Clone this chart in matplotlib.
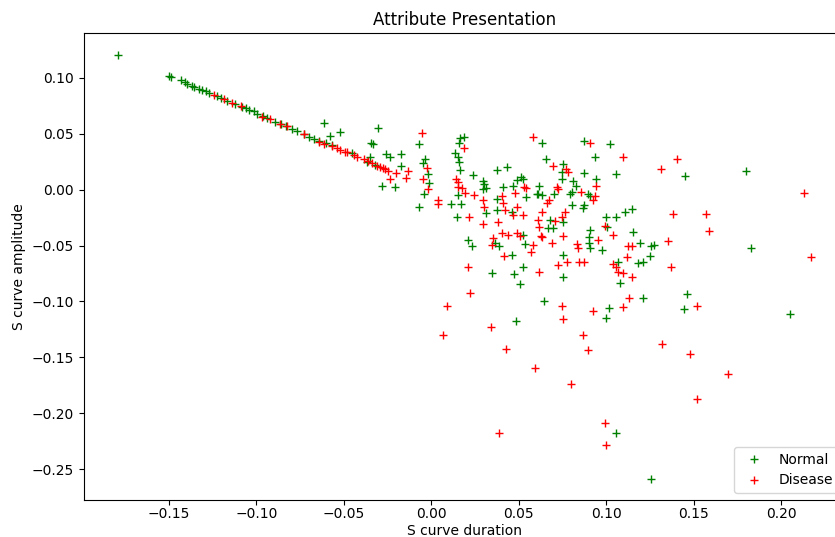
import numpy as np
import matplotlib
matplotlib.use('Agg')
import matplotlib.pyplot as plt

# S curve features, normal subjects
normal_duration = [
    -0.179, -0.150, -0.149, -0.143, -0.141, -0.1395, -0.1367, -0.1355, -0.133,
    -0.131, -0.129, -0.127, -0.1224, -0.120, -0.117, -0.112, -0.108, -0.1062,
    -0.1044, -0.1015, -0.0996, -0.096, -0.0939, -0.0891, -0.086, -0.083, -0.0796,
    -0.0768, -0.073, -0.070, -0.0673, -0.064, -0.060, -0.0568, -0.0454, -0.0368,
    -0.0321,
    -0.0616, -0.0581, -0.0524, -0.0305, -0.0345, -0.0334, -0.0349, -0.0258,
    -0.0235, -0.0172, -0.0174, -0.0282, -0.021,
    -0.0068, -0.0035, -0.0048, -0.0017, -0.0013, -0.0041, -0.0068,
    0.0164, 0.0187, 0.0159, 0.0136, 0.0155, 0.016, 0.0164, 0.0237, 0.0155,
    0.0111, 0.017, 0.0146, 0.0294, 0.0301, 0.0294, 0.0313, 0.0374, 0.043,
    0.0408, 0.0374, 0.0374, 0.0313,
    0.0465, 0.0488, 0.0511, 0.0526, 0.0541, 0.0459, 0.0526, 0.0611,
    0.063, 0.0874, 0.102, 0.0935, 0.1054, 0.0655, 0.0754, 0.0745, 0.0745,
    0.0874, 0.0807, 0.094, 0.0826, 0.0617, 0.0602, 0.063, 0.0701, 0.0792,
    0.0802, 0.0897, 0.0906, 0.0802, 0.0872, 0.0868, 0.075, 0.0678, 0.0668,
    0.0693, 0.0906, 0.0902, 0.1001, 0.1058, 0.1106, 0.1144, 0.1005, 0.115,
    0.0212, 0.0231, 0.0364, 0.0389, 0.0535, 0.0459, 0.0754, 0.0345, 0.0474,
    0.0522, 0.075, 0.0507, 0.0644, 0.0484, 0.0902, 0.0906, 0.0978, 0.1191,
    0.1068, 0.1182, 0.1207, 0.1077, 0.1207, 0.1016, 0.0997,
    0.1443, 0.2047, 0.1058, 0.1254, 0.1452, 0.180, 0.1258, 0.1271, 0.1829,
    0.1252, 0.1464,
]
normal_amplitude = [
    0.121, 0.102, 0.101, 0.098, 0.096, 0.0946, 0.0925, 0.0915, 0.0905,
    0.0895, 0.088, 0.0865, 0.0835, 0.082, 0.0795, 0.0767, 0.0742, 0.073,
    0.0716, 0.070, 0.068, 0.066, 0.0646, 0.061, 0.059, 0.057, 0.0545,
    0.0527, 0.050, 0.0476, 0.0455, 0.044, 0.0415, 0.040, 0.0327, 0.0252,
    0.0222,
    0.0596, 0.0485, 0.052, 0.0551, 0.0422, 0.0407, 0.029, 0.0318,
    0.0297, 0.0318, 0.0213, 0.0034, 0.0022,
    0.041, 0.0273, 0.0238, 0.0139, 0.0064, -0.004, -0.0151,
    0.0462, 0.047, 0.0415, 0.0327, 0.0297, 0.0252, 0.0178, 0.0133, -0.0047,
    -0.0127, -0.013, -0.024, 0.0082, 0.0052, 0.0004, 0.0012, 0.0178, 0.0202,
    0.0028, -0.0085, -0.0181, -0.0205,
    0.0034, 0.0088, 0.0112, 0.0094, -0.0062, -0.0196, -0.0405, -0.0038,
    0.0422, 0.0437, 0.041, 0.029, 0.0142, 0.0273, 0.0231, 0.0162, 0.0094,
    0.0153, 0.0082, 0.0094, 0.0034, 0.0034, -0.0038, -0.0047, -0.0038, -0.0038,
    -0.0017, -0.0038, -0.0056, -0.0136, -0.0136, -0.0166, -0.0286, -0.0271, -0.0345,
    -0.0345, -0.036, -0.042, -0.0241, -0.0247, -0.0196, -0.0175, -0.0336, -0.0375,
    -0.045, -0.0504, -0.0474, -0.0504, -0.0486, -0.0585, -0.0585, -0.0743, -0.0755,
    -0.0689, -0.0779, -0.0847, -0.0994, -0.1173, -0.048, -0.0525, -0.054, -0.048,
    -0.0644, -0.0659, -0.0644, -0.0838, -0.0967, -0.1062, -0.1152,
    -0.1069, -0.1113, -0.2178, -0.2587, 0.0124, 0.0171, -0.0504, -0.0495, -0.0519,
    -0.0594, -0.0937,
]

# S curve features, disease subjects
disease_duration = [
    -0.1243, -0.1186, -0.1138, -0.109, -0.0967, -0.092, -0.0863, -0.0825, -0.073,
    -0.0644, -0.0616, -0.0568, -0.054, -0.052, -0.0492, -0.0482, -0.0444, -0.0425,
    -0.0387, -0.036, -0.034, -0.031, -0.0292, -0.0275, -0.0264, -0.0245,
    -0.0201, -0.0134, -0.0144, -0.0235, -0.0054, -0.0026, -0.0048, -0.0017,
    0.004, 0.0037,
    0.0187, 0.014, 0.0155, 0.0174, 0.0193, 0.0217, 0.0244, 0.0297, 0.0301,
    0.0402, 0.0408, 0.0294, 0.0383, 0.0155, 0.0421,
    0.0478, 0.0529, 0.054, 0.0492, 0.0469, 0.0522, 0.0579, 0.0608,
    0.0906, 0.1093, 0.0697, 0.0769, 0.0782, 0.094, 0.072, 0.0725, 0.0674,
    0.0662, 0.0853, 0.0935, 0.0925, 0.063, 0.0763, 0.0745, 0.0706, 0.0617,
    0.0625, 0.075, 0.1039, 0.0992,
    0.0402, 0.044, 0.0488, 0.0507, 0.0345, 0.0355, 0.0583, 0.0568, 0.063,
    0.0687, 0.0415, 0.0212, 0.0617, 0.0725, 0.0773, 0.0845, 0.0872, 0.0221,
    0.0088, 0.0745, 0.0754, 0.034, 0.0069, 0.0864, 0.0427, 0.0897, 0.083,
    0.0839, 0.0954, 0.1125, 0.1144, 0.1039, 0.1054, 0.1068, 0.1093, 0.1119,
    0.1144, 0.113, 0.1093,
    0.0925, 0.1518, 0.1321, 0.1477, 0.0592, 0.0798, 0.1697, 0.1518, 0.0992,
    0.0389, 0.0997,
    0.131, 0.1404, 0.2127, 0.1382, 0.1568, 0.1587, 0.1353, 0.2171, 0.1367,
]
disease_amplitude = [
    0.085, 0.081, 0.0776, 0.0745, 0.0655, 0.063, 0.0587, 0.0566, 0.0497,
    0.043, 0.0413, 0.039, 0.037, 0.0357, 0.034, 0.0336, 0.031, 0.0297,
    0.0273, 0.0255, 0.0238, 0.0215, 0.0202, 0.019, 0.0184, 0.0171,
    0.0148, 0.0171, 0.0103, 0.0097, 0.0507, 0.0193, 0.0097, 0.0004,
    -0.0091, -0.013,
    0.0372, 0.0094, 0.0073, 0.0013, -0.0026, -0.0247, -0.0047, -0.0091, -0.0151,
    -0.0056, -0.0121, -0.0307, -0.0286, 0.0028, -0.0181,
    -0.0026, 0.0028, 0.0019, -0.0155, -0.0225, -0.0226, 0.0471, -0.0271,
    0.0422, 0.029, 0.0213, 0.0184, 0.0162, 0.0034, 0.0028, 0.0004, -0.0091,
    -0.0115, -0.0017, -0.0056, -0.0091, -0.0196, -0.0196, -0.0241, -0.0277, -0.0331,
    -0.0414, -0.0414, -0.0405, -0.0325,
    -0.039, -0.0404, -0.039, -0.0414, -0.0495, -0.0435, -0.0495, -0.0555, -0.0426,
    -0.0474, -0.0594, -0.0695, -0.0734, -0.0674, -0.0644, -0.065, -0.0644, -0.0928,
    -0.1039, -0.1039, -0.1161, -0.1227, -0.1302, -0.1302, -0.1427, -0.1436, -0.0486,
    -0.0525, -0.045, -0.0504, -0.0504, -0.0665, -0.0689, -0.0734, -0.0743, -0.0605,
    -0.0779, -0.0967, -0.1053,
    -0.1084, -0.1042, -0.1382, -0.1472, -0.160, -0.1735, -0.1654, -0.1869, -0.2088,
    -0.2178, -0.2288,
    0.0184, 0.0273, -0.0026, -0.0217, -0.0217, -0.0367, -0.0456, -0.060, -0.0695,
]

fig = plt.figure(figsize=(8.35, 5.37), dpi=100)
ax = fig.add_axes([0.100, 0.069, 0.913, 0.869])

ax.plot(normal_duration, normal_amplitude, '+', color='g', label='Normal')
ax.plot(disease_duration, disease_amplitude, '+', color='r', label='Disease')

ax.set_title('Attribute Presentation')
ax.set_xlabel('S curve duration', labelpad=2)
ax.set_ylabel('S curve amplitude')
ax.tick_params(axis='x', pad=1.5)
ax.legend(loc='lower right')

fig.savefig('out.png', dpi=100)
